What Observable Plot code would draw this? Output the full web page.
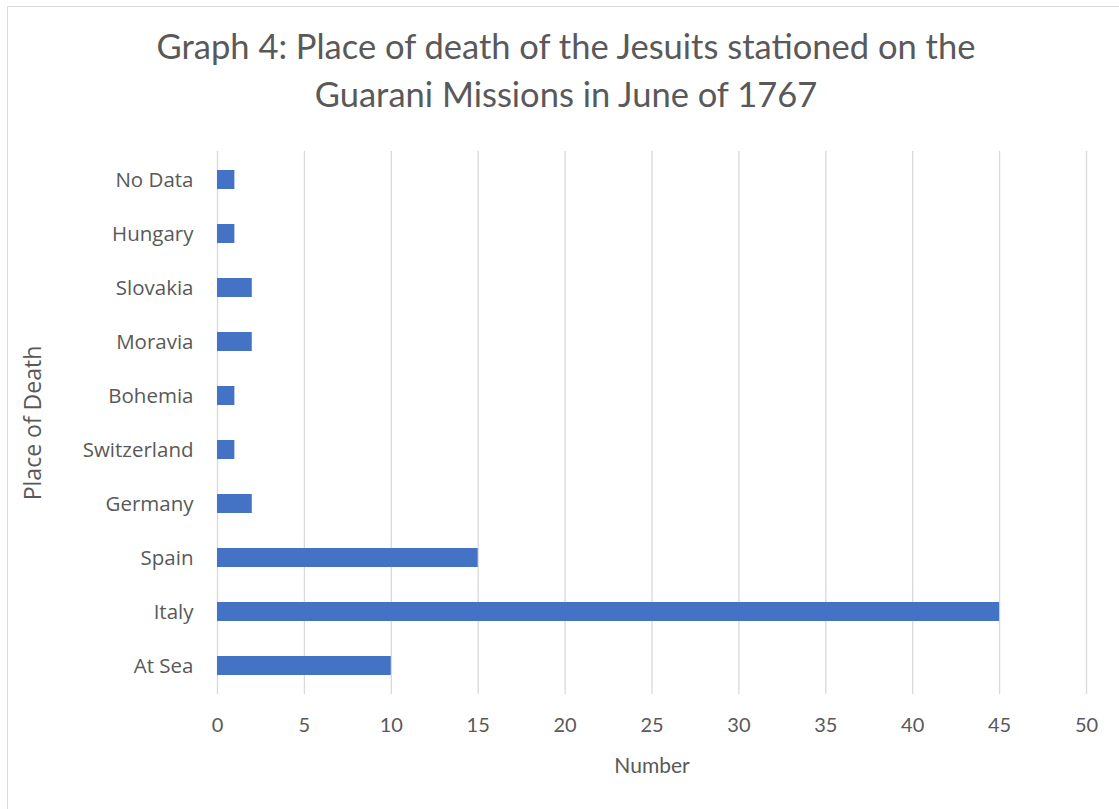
<!DOCTYPE html>
<html>
<head>
<meta charset="utf-8">
<script src="https://cdn.jsdelivr.net/npm/d3@7"></script>
<script src="https://cdn.jsdelivr.net/npm/@observablehq/plot@0.6"></script>
<style>
  html, body { margin: 0; padding: 0; background: #fff; }
  #wrap { position: relative; width: 1119px; height: 809px; overflow: hidden; }
  #frame { position: absolute; left: 7px; top: 6px; width: 1120px; height: 810px; border: 1px solid #d9d9d9; box-sizing: border-box; }
  #title { position: absolute; left: 0; top: 22px; width: 1132px; text-align: center; font-family: Lato, "Open Sans", sans-serif; font-size: 34.5px; line-height: 48px; color: #595959; }
  #chart { position: absolute; left: 0; top: 130px; }
</style>
</head>
<body>
<div id="wrap">
  <div id="frame"></div>
  <div id="title">Graph 4: Place of death of the Jesuits stationed on the<br>Guarani Missions in June of 1767</div>
  <div id="chart"></div>
</div>
<script>
const places = ["No Data", "Hungary", "Slovakia", "Moravia", "Bohemia", "Switzerland", "Germany", "Spain", "Italy", "At Sea"];
const counts = [1, 1, 2, 2, 1, 1, 2, 15, 45, 10];
const xTicks = [0, 5, 10, 15, 20, 25, 30, 35, 40, 45, 50];
const xLabel = "Number";
const yLabel = "Place of Death";

const data = places.map((p, i) => ({place: p, count: counts[i]}));

const chart = Plot.plot({
  width: 1119,
  height: 679,
  marginLeft: 217,
  marginRight: 33,
  marginTop: 21,
  marginBottom: 115,
  style: {fontFamily: "Lato, 'Open Sans', sans-serif", color: "#595959", background: "transparent"},
  x: {domain: [0, 50], ticks: xTicks},
  y: {domain: places, paddingInner: 0.65, paddingOuter: 0.325},
  marks: [
    Plot.ruleX(xTicks, {stroke: "#d9d9d9", strokeWidth: 1.3}),
    Plot.barX(data, {x: "count", y: "place", fill: "#4472c4"}),
    Plot.axisX({ticks: xTicks, tickSize: 0, tickPadding: 23, fontSize: 20, label: null, fill: "#595959"}),
    Plot.axisY({tickSize: 0, tickPadding: 24, fontSize: 20.5, label: null, fontFamily: "'Open Sans', sans-serif", fill: "#595959"}),
    Plot.text([xLabel], {frameAnchor: "bottom", dy: 78, fontSize: 21, fill: "#595959"}),
    Plot.text([yLabel], {frameAnchor: "left", textAnchor: "middle", dx: -184, rotate: -90, fontSize: 23, fontFamily: "'Open Sans', sans-serif", fill: "#595959"})
  ]
});
document.getElementById("chart").appendChild(chart);
</script>
</body>
</html>
